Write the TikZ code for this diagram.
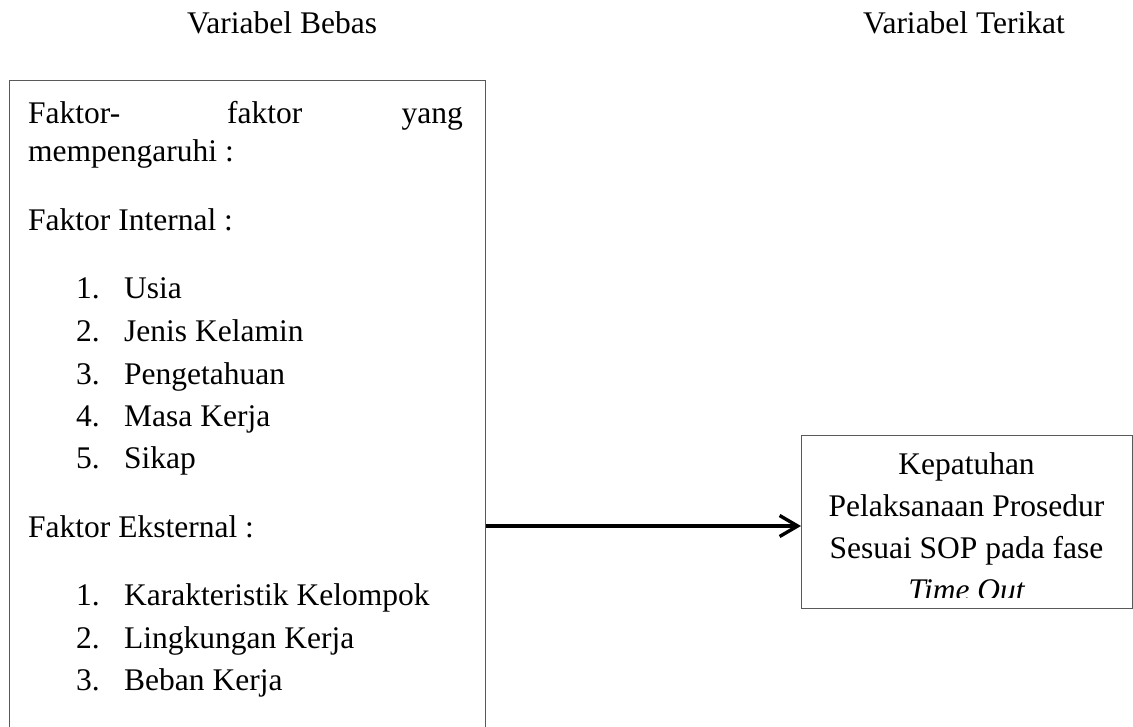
\documentclass[tikz,border=0pt]{standalone}
\usepackage{fontspec}
\setmainfont{Liberation Serif}
\usetikzlibrary{arrows.meta}
\begin{document}
\begin{tikzpicture}[x=1pt,y=-1pt,
  txt/.style={inner sep=0pt, anchor=base west, font=\fontsize{31.5}{42}\selectfont},
  ctxt/.style={inner sep=0pt, anchor=base, font=\fontsize{31.5}{42}\selectfont},
  boxline/.style={draw=black!65, line width=1.4pt},
  arr/.style={line width=3.4pt, -{Straight Barb[length=18pt,width=21pt,line width=3.4pt]}}]
\useasboundingbox (0,0) rectangle (1133,726);
\clip (0,0) rectangle (1133,726);
% headers
\node[txt] (hb) at (187,33) {Variabel Bebas};
\node[txt, anchor=base east] (ht) at (1065,33) {Variabel Terikat};
% left box
\node[boxline, anchor=north west, minimum width=476pt, minimum height=700pt, inner sep=0pt] (bebas) at (8.5,80) {};
\node[txt] (l1a) at (28,123) {Faktor-};
\node[txt] (l1b) at (227,123) {faktor};
\node[txt, anchor=base east] (l1c) at (463,123) {yang};
\node[txt] (l2) at (28,161.5) {mempengaruhi :};
\node[txt] (l3) at (28,230) {Faktor Internal :};
\foreach \n/\t/\y [count=\i] in {1/Usia/298, 2/Jenis Kelamin/341, 3/Pengetahuan/384, 4/Masa Kerja/426, 5/Sikap/468}{
  \node[txt] (in\i) at (76,\y) {\n.};
  \node[txt] (it\i) at (124,\y) {\t};
}
\node[txt] (l4) at (28,537) {Faktor Eksternal :};
\foreach \n/\t/\y [count=\i] in {1/Karakteristik Kelompok/605, 2/Lingkungan Kerja/648, 3/Beban Kerja/690}{
  \node[txt] (en\i) at (76,\y) {\n.};
  \node[txt] (et\i) at (124,\y) {\t};
}
% right box
\node[boxline, anchor=north west, minimum width=331pt, minimum height=173pt, inner sep=0pt] (terikat) at (801,435) {};
\begin{scope}
\clip (801,435) rectangle (1132,597);
\node[ctxt] (r1) at (966.5,474) {Kepatuhan};
\node[ctxt] (r2) at (966.5,516) {Pelaksanaan Prosedur};
\node[ctxt] (r3) at (966.5,558) {Sesuai SOP pada fase};
\node[ctxt] (r4) at (966.5,600) {\itshape Time Out};
\end{scope}
% arrow
\coordinate (ay) at (0,526);
\draw[arr] (bebas.east |- ay) -- (terikat.west |- ay);
\end{tikzpicture}
\end{document}
